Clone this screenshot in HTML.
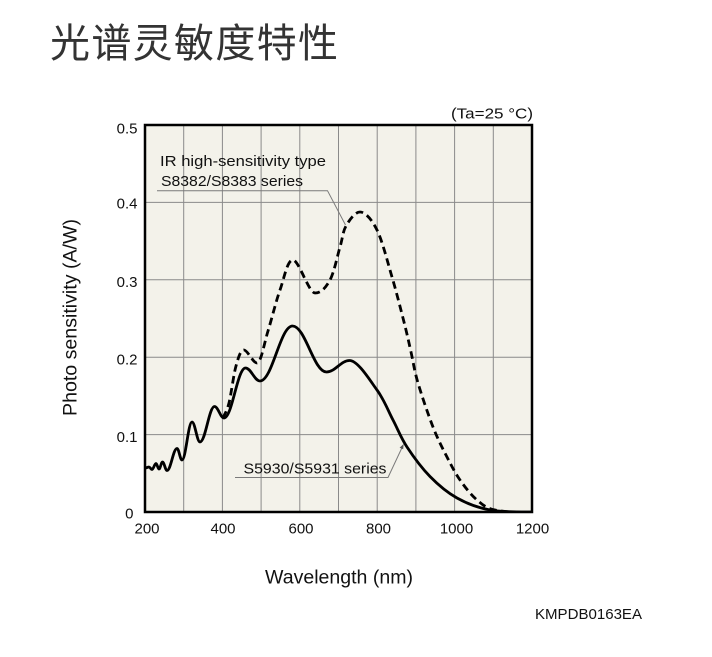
<!DOCTYPE html>
<html>
<head>
<meta charset="utf-8">
<style>
  html, body { margin:0; padding:0; background:#ffffff; }
  body { width:712px; height:657px; overflow:hidden; }
  svg { display:block; }
  .lbl { font-family:"Liberation Sans","DejaVu Sans",sans-serif; fill:#111; }
</style>
</head>
<body>
<svg width="712" height="657" viewBox="0 0 712 657" xmlns="http://www.w3.org/2000/svg">
  <!-- Title -->
  <text x="50" y="57" font-family="'Liberation Sans','Noto Sans CJK SC','WenQuanYi Zen Hei',sans-serif" font-size="40" fill="#333" textLength="288" lengthAdjust="spacing">光谱灵敏度特性</text>

  <defs>
    <clipPath id="plot"><rect x="145" y="125" width="387" height="387"/></clipPath>
  </defs>

  <!-- plot background -->
  <rect x="145" y="125" width="387" height="387" fill="#f3f2ea"/>

  <!-- grid -->
  <g stroke="#8a8a8a" stroke-width="1">
    <line x1="183.7" y1="125" x2="183.7" y2="512"/>
    <line x1="222.4" y1="125" x2="222.4" y2="512"/>
    <line x1="261.1" y1="125" x2="261.1" y2="512"/>
    <line x1="299.8" y1="125" x2="299.8" y2="512"/>
    <line x1="338.5" y1="125" x2="338.5" y2="512"/>
    <line x1="377.2" y1="125" x2="377.2" y2="512"/>
    <line x1="415.9" y1="125" x2="415.9" y2="512"/>
    <line x1="454.6" y1="125" x2="454.6" y2="512"/>
    <line x1="493.3" y1="125" x2="493.3" y2="512"/>
    <line x1="145" y1="434.6" x2="532" y2="434.6"/>
    <line x1="145" y1="357.2" x2="532" y2="357.2"/>
    <line x1="145" y1="279.8" x2="532" y2="279.8"/>
    <line x1="145" y1="202.4" x2="532" y2="202.4"/>
  </g>

  <!-- annotation leaders -->
  <g stroke="#7a7a7a" stroke-width="1" fill="none">
    <polyline points="157,190.7 327.5,190.7 345.5,225"/>
    <polyline points="235,477.5 388,477.5 403,445.5"/>
  </g>
  <polygon points="403.6,444 403.2,449.3 399.6,447.7" fill="#555"/>

  <g clip-path="url(#plot)" fill="none" stroke="#000" stroke-linecap="butt" stroke-linejoin="round">
    <!-- S5930/S5931 solid -->
    <path stroke-width="2.8" d="M145,468
      C147,468 147.5,467 149,467
      C150.1,467 150.9,469.5 152,469.5
      C153.5,469.5 154.5,463.5 156,463.5
      C157.1,463.5 157.9,469 159,469
      C160.3,469 161.2,462 162.5,462
      C164.2,462 165.3,470.5 167,470.5
      C170.8,470.5 173.2,448.5 177,448.5
      C178.9,448.5 180.1,460 182,460
      C185.8,460 188.2,422 192,422
      C195,422 197,442 200,442
      C205.5,442 209,406.5 214.5,406.5
      C218.1,406.5 220.4,418 224,418
      C232.2,418 237.3,368 245.5,368
      C251,368 254.5,381 260,381
      C272.4,381 280.1,326 292.5,326
      C305.4,326 313.6,372 326.5,372
      C335.2,372 340.8,360.5 349.5,360.5
      C357.9,360.5 369.75,380.1 377,390
      C384.25,399.9 388,410.5 393,420
      C398,429.5 400.8,437.6 407,447
      C413.2,456.4 421.7,468 430,476.5
      C438.3,485 447,492.4 457,498
      C467,503.6 477.5,507.7 490,510
      C502.5,512.3 518,512 532,512"/>
    <!-- S8382/S8383 dashed -->
    <path stroke-width="2.8" stroke-dasharray="7.5 4.5" d="M223,418
      C225,413 226.8,411.7 229,403
      C231.2,394.3 233.5,374.8 236,366
      C238.5,357.2 240.5,350 244,350
      C247.5,350 253,363 257,363
      C261,363 264.2,343.2 268,331
      C271.8,318.8 275.8,301.8 280,290
      C284.2,278.2 287.2,260 293,260
      C298.8,260 308.8,293 315,293
      C321.2,293 325.8,287.7 330,280
      C334.2,272.3 337.3,256 340,247
      C342.7,238 342.7,231.8 346,226
      C349.3,220.2 354.8,212 360,212
      C365.2,212 371.7,219.2 377,230
      C382.3,240.8 387.5,261.7 392,277
      C396.5,292.3 400.8,309.5 404,322
      C407.2,334.5 408.7,341.8 411,352
      C413.3,362.2 414.3,370.5 418,383
      C421.7,395.5 428.2,414.7 433,427
      C437.8,439.3 442.5,448.2 447,457
      C451.5,465.8 455,472.8 460,480
      C465,487.2 471.2,495 477,500
      C482.8,505 485.8,507.9 495,510
      C504.2,512.1 522,512.5 532,512.5"/>
  </g>

  <!-- frame -->
  <rect x="145" y="125" width="387" height="387" fill="none" stroke="#000" stroke-width="2.5"/>

  <!-- annotations text -->
  <text class="lbl" x="160" y="166" font-size="15" textLength="166" lengthAdjust="spacingAndGlyphs">IR high-sensitivity type</text>
  <text class="lbl" x="161" y="186" font-size="15" textLength="142" lengthAdjust="spacingAndGlyphs">S8382/S8383 series</text>
  <text class="lbl" x="243.5" y="473.5" font-size="15" textLength="143" lengthAdjust="spacingAndGlyphs">S5930/S5931 series</text>
  <text class="lbl" x="451" y="118.5" font-size="15" textLength="82" lengthAdjust="spacingAndGlyphs">(Ta=25 °C)</text>

  <!-- y tick labels -->
  <g class="lbl" font-size="15" text-anchor="end">
    <text x="137.5" y="133.3">0.5</text>
    <text x="137.5" y="208.6">0.4</text>
    <text x="137.5" y="287">0.3</text>
    <text x="137.5" y="364.6">0.2</text>
    <text x="137.5" y="442">0.1</text>
    <text x="133.5" y="518.6">0</text>
  </g>

  <!-- x tick labels -->
  <g class="lbl" font-size="15" text-anchor="middle">
    <text x="147" y="533.3">200</text>
    <text x="223" y="533.3">400</text>
    <text x="301" y="533.3">600</text>
    <text x="378.5" y="533.3">800</text>
    <text x="456.5" y="533.3">1000</text>
    <text x="532.5" y="533.3">1200</text>
  </g>

  <!-- axis titles -->
  <text class="lbl" x="265" y="583.3" font-size="19" textLength="148" lengthAdjust="spacingAndGlyphs">Wavelength (nm)</text>
  <text class="lbl" transform="translate(76.5,416) rotate(-90)" x="0" y="0" font-size="19.5" textLength="197" lengthAdjust="spacingAndGlyphs">Photo sensitivity (A/W)</text>

  <text class="lbl" x="535" y="619" font-size="15" textLength="107" lengthAdjust="spacingAndGlyphs">KMPDB0163EA</text>
</svg>
</body>
</html>
